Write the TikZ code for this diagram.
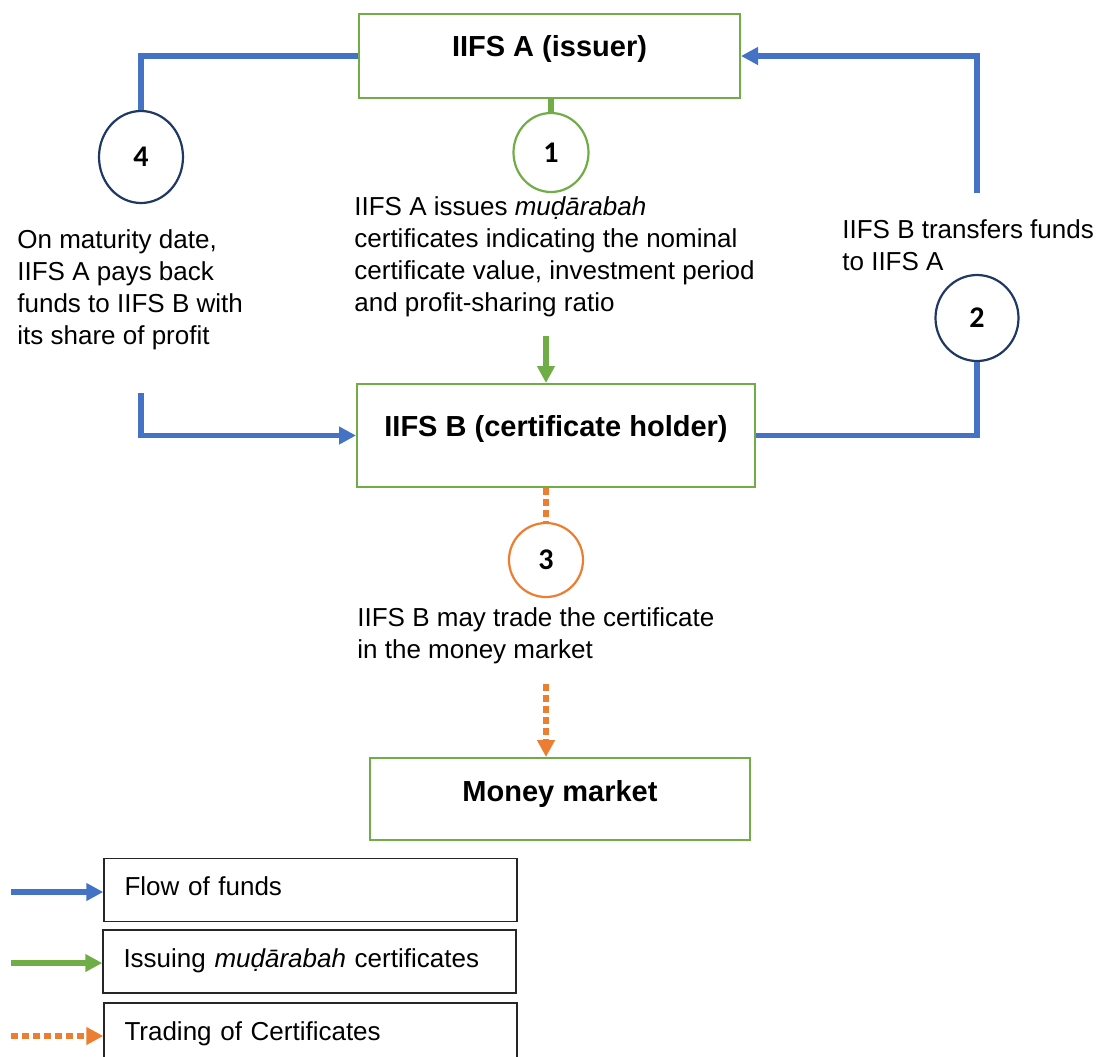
\documentclass[tikz,border=0pt]{standalone}
\usepackage{fontspec}
\setmainfont{Liberation Sans}
\newfontfamily\numfont{Carlito}
\usetikzlibrary{shapes.geometric,arrows.meta}
\definecolor{fundsblue}{RGB}{68,114,196}
\definecolor{issuegreen}{RGB}{112,173,71}
\definecolor{tradeorange}{RGB}{237,125,49}
\definecolor{stepnavy}{RGB}{31,56,100}

\begin{document}
\begin{tikzpicture}[x=0.5pt,y=-0.5pt,
    partybox/.style={rectangle,draw=issuegreen,line width=1pt,inner sep=0pt},
    boxtitle/.style={font=\fontsize{14.5}{17}\selectfont\bfseries},
    stepmark/.style={ellipse,line width=1.1pt,inner sep=0pt,font=\numfont\fontsize{15}{17}\selectfont\bfseries},
    note/.style={anchor=north west,inner sep=0pt,align=left,font=\fontsize{13}{16}\selectfont},
    funds/.style={draw=fundsblue,line width=2.6pt},
    issuing/.style={draw=issuegreen,line width=2.6pt},
    trading/.style={draw=tradeorange,line width=3pt,dash pattern=on 3.5pt off 2pt},
    headed/.style={-{Triangle[length=8.5pt,width=8.5pt]}},
    keybox/.style={draw=black!85,line width=0.75pt,minimum width=206.5pt,minimum height=31.5pt,
        text width=186pt,inner xsep=10.25pt,text depth=3.5pt,align=left,font=\fontsize{13}{16}\selectfont}]
    \useasboundingbox (0,0) rectangle (1104,1056);
    \clip (0,0) rectangle (1104,1056);

    % Parties
    \node[partybox,minimum width=190.5pt,minimum height=42pt,
        label={[boxtitle,yshift=3.5pt]center:IIFS A (issuer)}] (issuer) at (549.5,56) {};
    \node[partybox,minimum width=199pt,minimum height=51.5pt,
        label={[boxtitle,yshift=3.5pt]center:IIFS B (certificate holder)}] (holder) at (556,435.5) {};
    \node[partybox,minimum width=190pt,minimum height=41pt,
        label={[boxtitle,yshift=2.5pt]center:Money market}] (market) at (560,799) {};

    % Steps
    \node[stepmark,draw=stepnavy,minimum width=42pt,minimum height=46pt] (s4) at (141,157) {4};
    \node[stepmark,draw=issuegreen,minimum width=37.5pt,minimum height=39.5pt] (s1) at (551,152.5) {1};
    \node[stepmark,draw=stepnavy,minimum width=41.5pt,minimum height=43pt] (s2) at (977,318) {2};
    \node[stepmark,draw=tradeorange,minimum width=37pt,minimum height=37pt] (s3) at (546,560) {3};

    % Step texts
    \node[note] (n4) at (17,229) {On maturity date,\\IIFS A pays back\\funds to IIFS B with\\its share of profit};
    \node[note] (n1) at (354,196) {IIFS A issues \textit{muḍārabah}\\certificates indicating the nominal\\certificate value, investment period\\and profit-sharing ratio};
    \node[note] (n2) at (842,219) {IIFS B transfers funds\\to IIFS A};
    \node[note] (n3) at (357,607) {IIFS B may trade the certificate\\in the money market};

    % Flow of funds
    \draw[funds] (issuer.west) -| (s4.north);
    \coordinate (backstart) at (141,393);
    \draw[funds,headed] (backstart) |- (holder.west);
    \draw[funds] (holder.east) -| (s2.south);
    \coordinate (transferstart) at (977,193);
    \draw[funds,headed] (transferstart) |- (issuer.east);

    % Issuing
    \draw[issuing] (s1.north |- issuer.south) -- (s1.north);
    \coordinate (issuestart) at (546,336);
    \draw[issuing,headed] (issuestart) -- (issuestart |- holder.north);

    % Trading
    \draw[trading] (s3.north |- holder.south) -- (s3.north);
    \coordinate (tradestart) at (546,684);
    \draw[trading,headed] (tradestart) -- (tradestart |- market.north);

    % Legend
    \node[keybox] (keyfunds) at (310.5,890) {Flow of funds};
    \node[keybox,minimum width=205pt] (keyissue) at (309.5,961.5) {Issuing \textit{muḍārabah} certificates};
    \node[keybox] (keytrade) at (310.5,1034.5) {Trading of Certificates};
    \coordinate (keyfundsstart) at (11,892);
    \coordinate (keyissuestart) at (11,963);
    \coordinate (keytradestart) at (11,1036);
    \draw[funds,headed] (keyfundsstart) -- (keyfundsstart -| keyfunds.west);
    \draw[issuing,headed] (keyissuestart) -- (keyissuestart -| keyissue.west);
    \draw[trading,headed] (keytradestart) -- (keytradestart -| keytrade.west);
\end{tikzpicture}
\end{document}
